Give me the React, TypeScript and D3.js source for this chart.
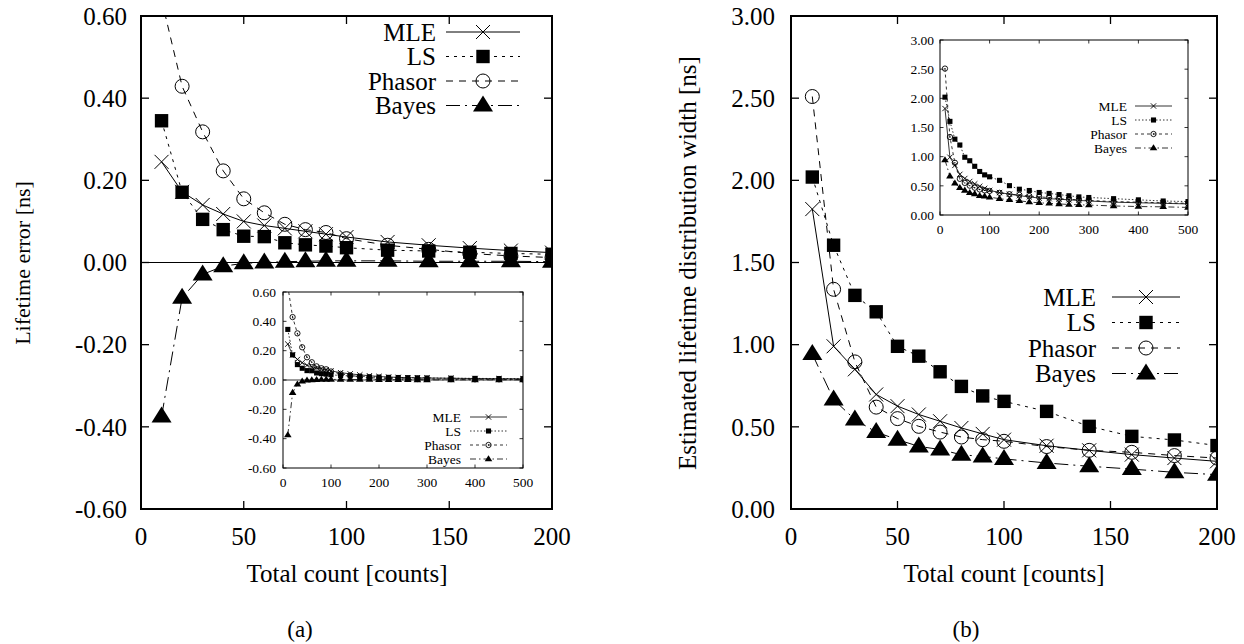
import React, { useRef, useEffect } from 'react';
import * as d3 from 'd3';

// counts used in the main panels and in the insets
const xMain = [10, 20, 30, 40, 50, 60, 70, 80, 90, 100, 120, 140, 160, 180, 200];
const xTail = [220, 240, 260, 280, 300, 350, 400, 450, 500];

// (a) lifetime error [ns]
const errMLE = [0.245, 0.172, 0.14, 0.118, 0.1, 0.09, 0.083, 0.076, 0.069, 0.062, 0.05, 0.042, 0.035, 0.029, 0.024];
const errLS = [0.345, 0.171, 0.105, 0.08, 0.064, 0.063, 0.048, 0.043, 0.04, 0.036, 0.03, 0.028, 0.025, 0.022, 0.02];
const errPhasor = [0.64, 0.429, 0.318, 0.223, 0.155, 0.121, 0.093, 0.08, 0.073, 0.058, 0.042, 0.032, 0.022, 0.016, 0.012];
const errBayes = [-0.375, -0.086, -0.029, -0.009, -0.002, 0.0, 0.002, 0.003, 0.004, 0.004, 0.004, 0.003, 0.003, 0.003, 0.002];
const errMLETail = [0.02, 0.018, 0.016, 0.015, 0.014, 0.012, 0.01, 0.009, 0.008];
const errLSTail = [0.018, 0.017, 0.016, 0.015, 0.014, 0.012, 0.011, 0.01, 0.009];
const errPhasorTail = [0.01, 0.009, 0.008, 0.007, 0.007, 0.006, 0.005, 0.005, 0.004];
const errBayesTail = [0.002, 0.002, 0.002, 0.001, 0.001, 0.001, 0.001, 0.001, 0.001];

// (b) estimated lifetime distribution width [ns]
const widMLE = [1.825, 0.99, 0.85, 0.697, 0.626, 0.575, 0.534, 0.493, 0.457, 0.422, 0.385, 0.357, 0.331, 0.31, 0.29];
const widLS = [2.02, 1.605, 1.3, 1.2, 0.99, 0.93, 0.835, 0.746, 0.688, 0.655, 0.594, 0.503, 0.442, 0.42, 0.386];
const widPhasor = [2.51, 1.337, 0.895, 0.62, 0.55, 0.503, 0.468, 0.438, 0.422, 0.412, 0.38, 0.357, 0.345, 0.325, 0.31];
const widBayes = [0.943, 0.666, 0.544, 0.468, 0.422, 0.381, 0.362, 0.33, 0.32, 0.305, 0.28, 0.26, 0.243, 0.223, 0.209];
const widMLETail = [0.28, 0.27, 0.26, 0.25, 0.24, 0.22, 0.21, 0.2, 0.19];
const widLSTail = [0.37, 0.35, 0.33, 0.31, 0.3, 0.28, 0.26, 0.24, 0.23];
const widPhasorTail = [0.3, 0.28, 0.27, 0.26, 0.25, 0.23, 0.22, 0.21, 0.2];
const widBayesTail = [0.2, 0.19, 0.18, 0.175, 0.17, 0.155, 0.145, 0.14, 0.13];

const names = ['MLE', 'LS', 'Phasor', 'Bayes'];
const markers = ['cross', 'square', 'circle', 'triangle'];
const dashMain = [null, '3,5', '7,6', '14,5,2,5'];
const dashInset = [null, '1.5,2', '3,3', '6,3,1.5,3'];

const FONT = "'Liberation Serif', Tinos, 'Times New Roman', Times, 'DejaVu Serif', serif";

const drawMarker = (g, type, x, y, s, small) => {
    if (type === 'cross') {
        const r = 7 * s;
        g.append('path')
            .attr('d', `M${x - r},${y - r}L${x + r},${y + r}M${x - r},${y + r}L${x + r},${y - r}`)
            .attr('stroke', '#000').attr('stroke-width', small ? 0.9 : 1).attr('fill', 'none');
    } else if (type === 'square') {
        const h = 6.7 * s;
        g.append('rect').attr('x', x - h).attr('y', y - h).attr('width', 2 * h).attr('height', 2 * h).attr('fill', '#000');
    } else if (type === 'circle') {
        g.append('circle').attr('cx', x).attr('cy', y).attr('r', 7 * s)
            .attr('fill', 'none').attr('stroke', '#000').attr('stroke-width', small ? 0.9 : 1);
        if (small) g.append('circle').attr('cx', x).attr('cy', y).attr('r', 0.7).attr('fill', '#000');
    } else {
        const w = 10 * s;
        g.append('path')
            .attr('d', `M${x},${y - 10 * s}L${x + w},${y + 6 * s}L${x - w},${y + 6 * s}Z`)
            .attr('fill', '#000');
    }
};

const drawPanel = (svg, p) => {
    const x = d3.scaleLinear().domain(p.xDomain).range([p.left, p.right]);
    const y = d3.scaleLinear().domain(p.yDomain).range([p.bottom, p.top]);
    const g = svg.append('g');
    const clipId = `clip-${p.id}`;
    g.append('clipPath').attr('id', clipId).append('rect')
        .attr('x', p.left).attr('y', p.top).attr('width', p.right - p.left).attr('height', p.bottom - p.top);

    if (p.inset) {
        g.append('rect').attr('x', p.left).attr('y', p.top).attr('width', p.right - p.left)
            .attr('height', p.bottom - p.top).attr('fill', '#fff');
    }

    // ticks (mirrored on all four sides)
    const tl = p.tickLen;
    const tickG = g.append('g').attr('stroke', '#000').attr('stroke-width', p.inset ? 0.8 : 1.3);
    p.xTicks.forEach(t => {
        tickG.append('line').attr('x1', x(t)).attr('x2', x(t)).attr('y1', p.bottom).attr('y2', p.bottom - tl);
        tickG.append('line').attr('x1', x(t)).attr('x2', x(t)).attr('y1', p.top).attr('y2', p.top + tl);
    });
    p.yTicks.forEach(t => {
        tickG.append('line').attr('x1', p.left).attr('x2', p.left + tl).attr('y1', y(t)).attr('y2', y(t));
        tickG.append('line').attr('x1', p.right).attr('x2', p.right - tl).attr('y1', y(t)).attr('y2', y(t));
    });

    const lab = g.append('g').attr('font-family', FONT).attr('font-size', p.font).attr('fill', '#000');
    p.xTicks.forEach(t => {
        lab.append('text').attr('x', x(t)).attr('y', p.bottom + p.xLabOff).attr('text-anchor', 'middle').text(String(t));
    });
    p.yTicks.forEach(t => {
        lab.append('text').attr('x', p.left - p.yLabOff).attr('y', y(t)).attr('dy', '0.35em')
            .attr('text-anchor', 'end').text(t.toFixed(2));
    });

    if (p.zeroLine) {
        g.append('line').attr('x1', p.left).attr('x2', p.right).attr('y1', y(0)).attr('y2', y(0))
            .attr('stroke', '#000').attr('stroke-width', p.inset ? 0.8 : 1);
    }

    // series
    const dg = g.append('g').attr('clip-path', `url(#${clipId})`);
    const line = d3.line().x(d => x(d[0])).y(d => y(d[1]));
    p.series.forEach((vals, i) => {
        const pts = p.xs.map((xv, k) => [xv, vals[k]]);
        dg.append('path').attr('d', line(pts)).attr('fill', 'none').attr('stroke', '#000')
            .attr('stroke-width', p.inset ? 0.8 : 1)
            .attr('stroke-dasharray', p.dash[i]);
    });
    p.series.forEach((vals, i) => {
        p.xs.forEach((xv, k) => drawMarker(dg, markers[i], x(xv), y(vals[k]), p.ms, p.inset));
    });

    // legend
    const lg = g.append('g');
    names.forEach((n, i) => {
        const ly = p.legend.y0 + i * p.legend.dy;
        lg.append('text').attr('x', p.legend.textRight).attr('y', ly).attr('dy', '0.35em')
            .attr('text-anchor', 'end').attr('font-family', FONT).attr('font-size', p.legend.font).text(n);
        lg.append('line').attr('x1', p.legend.l0).attr('x2', p.legend.l1).attr('y1', ly).attr('y2', ly)
            .attr('stroke', '#000').attr('stroke-width', p.inset ? 0.8 : 1).attr('stroke-dasharray', p.dash[i]);
        drawMarker(lg, markers[i], (p.legend.l0 + p.legend.l1) / 2, ly, p.ms, p.inset);
    });

    // frame
    g.append('rect').attr('x', p.left).attr('y', p.top).attr('width', p.right - p.left)
        .attr('height', p.bottom - p.top).attr('fill', 'none').attr('stroke', '#000')
        .attr('stroke-width', p.inset ? 1 : 2);
};

const App = () => {
    const ref = useRef(null);

    useEffect(() => {
        const svg = d3.select(ref.current);
        svg.selectAll('*').remove();
        const xInset = xMain.concat(xTail);

        drawPanel(svg, {
            id: 'a', left: 141, right: 552, top: 16, bottom: 509,
            xDomain: [0, 200], yDomain: [-0.6, 0.6],
            xTicks: [0, 50, 100, 150, 200], yTicks: d3.range(-0.6, 0.61, 0.2).map(v => +v.toFixed(2)),
            tickLen: 8, font: 25, xLabOff: 36, yLabOff: 14, zeroLine: true, ms: 1,
            xs: xMain, series: [errMLE, errLS, errPhasor, errBayes], dash: dashMain,
            legend: { textRight: 436, l0: 446, l1: 520, y0: 32, dy: 24.5, font: 25 },
        });
        drawPanel(svg, {
            id: 'ai', inset: true, left: 283, right: 523, top: 292, bottom: 468,
            xDomain: [0, 500], yDomain: [-0.6, 0.6],
            xTicks: [0, 100, 200, 300, 400, 500], yTicks: d3.range(-0.6, 0.61, 0.2).map(v => +v.toFixed(2)),
            tickLen: 3.5, font: 13.5, xLabOff: 19, yLabOff: 7, zeroLine: true, ms: 0.38,
            xs: xInset,
            series: [errMLE.concat(errMLETail), errLS.concat(errLSTail), errPhasor.concat(errPhasorTail), errBayes.concat(errBayesTail)],
            dash: dashInset,
            legend: { textRight: 461, l0: 470, l1: 507, y0: 417, dy: 14, font: 13.5 },
        });
        drawPanel(svg, {
            id: 'b', left: 791, right: 1217, top: 16, bottom: 509,
            xDomain: [0, 200], yDomain: [0, 3],
            xTicks: [0, 50, 100, 150, 200], yTicks: [0, 0.5, 1, 1.5, 2, 2.5, 3],
            tickLen: 8, font: 25, xLabOff: 36, yLabOff: 16, zeroLine: false, ms: 1,
            xs: xMain, series: [widMLE, widLS, widPhasor, widBayes], dash: dashMain,
            legend: { textRight: 1096, l0: 1112, l1: 1180, y0: 297, dy: 25.5, font: 25 },
        });
        drawPanel(svg, {
            id: 'bi', inset: true, left: 940, right: 1188, top: 40, bottom: 215,
            xDomain: [0, 500], yDomain: [0, 3],
            xTicks: [0, 100, 200, 300, 400, 500], yTicks: [0, 0.5, 1, 1.5, 2, 2.5, 3],
            tickLen: 3.5, font: 13.5, xLabOff: 19, yLabOff: 6, zeroLine: false, ms: 0.38,
            xs: xInset,
            series: [widMLE.concat(widMLETail), widLS.concat(widLSTail), widPhasor.concat(widPhasorTail), widBayes.concat(widBayesTail)],
            dash: dashInset,
            legend: { textRight: 1127, l0: 1135, l1: 1172, y0: 106, dy: 14, font: 13.5 },
        });

        // axis titles and captions
        const t = svg.append('g').attr('font-family', FONT).attr('font-size', 25).attr('fill', '#000');
        t.append('text').attr('x', 347).attr('y', 582).attr('text-anchor', 'middle').text('Total count [counts]');
        t.append('text').attr('x', 1004).attr('y', 582).attr('text-anchor', 'middle').text('Total count [counts]');
        t.append('text').attr('transform', 'translate(30,263) rotate(-90)').attr('text-anchor', 'middle')
            .attr('font-size', 22).text('Lifetime error [ns]');
        t.append('text').attr('transform', 'translate(696,263) rotate(-90)').attr('text-anchor', 'middle')
            .text('Estimated lifetime distribution width [ns]');
        t.append('text').attr('x', 300).attr('y', 637).attr('text-anchor', 'middle').attr('font-size', 23).text('(a)');
        t.append('text').attr('x', 966).attr('y', 637).attr('text-anchor', 'middle').attr('font-size', 23).text('(b)');
    }, []);

    return (
        <svg ref={ref} width={1244} height={644} fontFamily={FONT}
            style={{ position: 'absolute', left: 0, top: 0, background: '#fff' }} />
    );
};

export default App;
